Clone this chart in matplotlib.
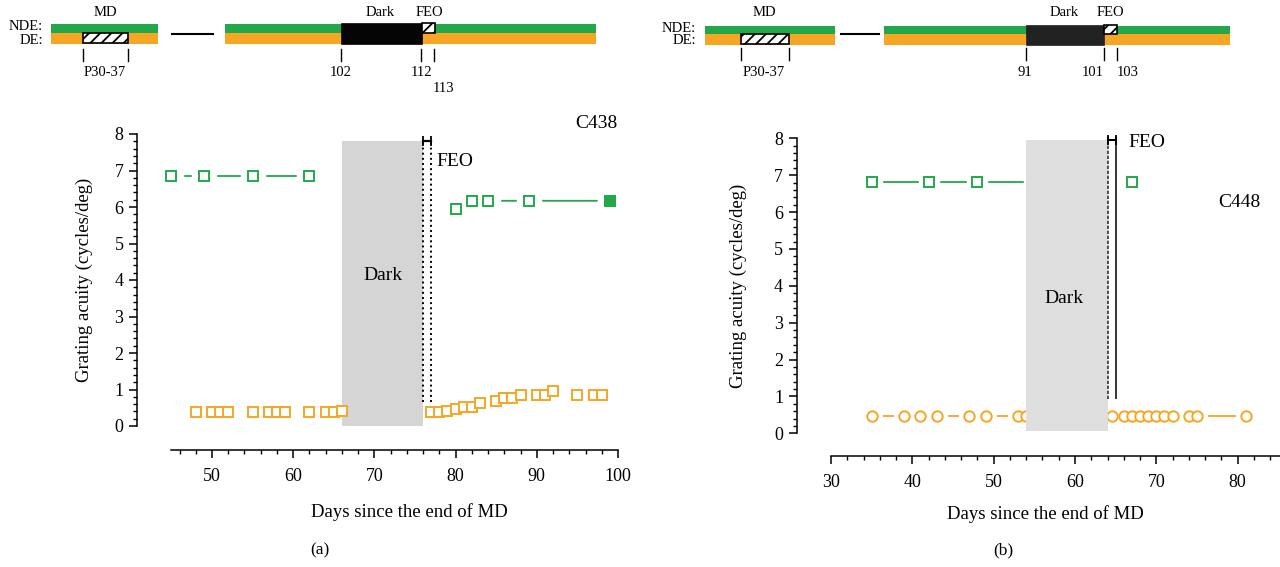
import matplotlib
matplotlib.use("Agg")
import matplotlib.pyplot as plt
from matplotlib.patches import Rectangle
from matplotlib.ticker import MultipleLocator

plt.rcParams['font.family'] = ['Liberation Serif', 'DejaVu Serif']
plt.rcParams['hatch.linewidth'] = 1.3

GREEN = "#22a84b"
ORANGE = "#f6a623"

# (a) C438
a_nde_pre_days = [45, 49, 55, 62]
a_nde_pre = [6.85, 6.85, 6.85, 6.85]
a_nde_post_days = [80, 82, 84, 89]
a_nde_post = [5.94, 6.17, 6.17, 6.17]
a_nde_last_day = [99]
a_nde_last = [6.17]
a_de_pre_days = [48, 50, 51, 52, 55, 57, 58, 59, 62, 64, 65, 66]
a_de_pre = [0.38, 0.38, 0.38, 0.38, 0.38, 0.38, 0.38, 0.38, 0.38, 0.38, 0.38, 0.41]
a_de_post_days = [77, 78, 79, 80, 81, 82, 83, 85, 86, 87, 88, 90, 91, 92, 95, 97, 98]
a_de_post = [0.37, 0.37, 0.41, 0.47, 0.52, 0.52, 0.62, 0.68, 0.76, 0.76, 0.84,
             0.84, 0.84, 0.96, 0.84, 0.84, 0.84]
a_dark = (66, 76)
a_feo = (76, 77)

# (b) C448
b_nde_pre_days = [35, 42, 48, 55]
b_nde_pre = [6.82, 6.82, 6.82, 6.82]
b_nde_post_days = [67]
b_nde_post = [6.82]
b_de_pre_days = [35, 39, 41, 43, 47, 49, 53, 54]
b_de_pre = [0.47, 0.47, 0.47, 0.47, 0.47, 0.47, 0.47, 0.47]
b_de_post_days = [64.5, 66, 67, 68, 69, 70, 71, 72, 74, 75, 81]
b_de_post = [0.47, 0.47, 0.47, 0.47, 0.47, 0.47, 0.47, 0.47, 0.47, 0.47, 0.47]
b_dark = (54, 64)
b_feo = (64, 65)


def series(ax, x, y, color, marker, ms, halo, filled=False):
    # line, white halo (gap round the markers), then the marker itself
    ax.plot(x, y, '-', color=color, lw=1.3, zorder=2)
    ax.plot(x, y, ls='none', marker=marker, ms=halo, mfc='white', mec='white', zorder=3,
            clip_on=False)
    ax.plot(x, y, ls='none', marker=marker, ms=ms, mfc=color if filled else 'white',
            mec=color, mew=1.4, zorder=4, clip_on=False)


def style_axes(ax, xlim, xmajor, bottom_offset):
    ax.set_xlim(*xlim)
    ax.set_ylim(0, 8)
    ax.xaxis.set_major_locator(MultipleLocator(xmajor))
    ax.xaxis.set_minor_locator(MultipleLocator(2))
    ax.yaxis.set_major_locator(MultipleLocator(1))
    ax.yaxis.set_minor_locator(MultipleLocator(0.2))
    for s in ['top', 'right']:
        ax.spines[s].set_visible(False)
    ax.spines['left'].set_position(('outward', 24.5))
    ax.spines['bottom'].set_position(('outward', bottom_offset))
    for s in ['left', 'bottom']:
        ax.spines[s].set_linewidth(1.1)
    ax.tick_params(which='major', length=6, width=1.1, labelsize=13)
    ax.tick_params(axis='x', which='major', pad=7)
    ax.tick_params(axis='y', which='major', pad=4)
    ax.tick_params(which='minor', length=3, width=1.0)
    ax.set_ylabel("Grating acuity (cycles/deg)", fontsize=13.5)
    ax.set_xlabel("Days since the end of MD", fontsize=13.5)


def timeline(ax, t):
    ax.text(t['lab_x'], t['nde_y'], "NDE:", ha='right', va='center', fontsize=10.5)
    ax.text(t['lab_x'], t['de_y'], "DE:", ha='right', va='center', fontsize=10.5)
    for (xa, xb) in [t['bar1'], t['bar2']]:
        ax.add_patch(Rectangle((xa, t['g_top']), xb - xa, t['g_h'], color=GREEN, lw=0))
        ax.add_patch(Rectangle((xa, t['g_top'] + t['g_h']), xb - xa, t['o_h'], color=ORANGE, lw=0))
    md = t['md']
    ax.add_patch(Rectangle((md[0], t['g_top'] + t['g_h']), md[1] - md[0], t['o_h'] - 1,
                           facecolor='white', edgecolor='black', hatch='///', lw=1.2))
    dk = t['dark']
    ax.add_patch(Rectangle((dk[0], t['g_top'] - 1), dk[1] - dk[0], t['g_h'] + t['o_h'] + 1,
                           facecolor=t['dark_c'], edgecolor=t['dark_c'], lw=0.5))
    fe = t['feo']
    ax.add_patch(Rectangle((fe[0], t['g_top'] - 1), fe[1] - fe[0], t['g_h'] + 1,
                           facecolor='white', edgecolor='black', hatch='///', lw=1.2))
    ax.plot(t['dash'], [t['dash_y']] * 2, color='black', lw=1.5)
    for xt in t['ticks']:
        ax.plot([xt, xt], [t['tick_y0'], t['tick_y1']], color='black', lw=1.0)
    for (txt, xx, yy) in t['labels']:
        ax.text(xx, yy, txt, ha='center', va='center', fontsize=10.5)


fig = plt.figure(figsize=(12.8, 5.67), dpi=100)

# --- panel (a)
ax1 = fig.add_axes([171.4 / 1280, 1 - 426 / 567, 446.6 / 1280, 292 / 567])
style_axes(ax1, (45, 100), 10, 17.3)
series(ax1, a_nde_pre_days, a_nde_pre, GREEN, 's', 7, 17)
series(ax1, a_nde_post_days + a_nde_last_day, a_nde_post + a_nde_last, GREEN, 's', 7, 17)
series(ax1, a_nde_last_day, a_nde_last, GREEN, 's', 7, 17, filled=True)
series(ax1, a_de_pre_days, a_de_pre, ORANGE, 's', 6.5, 17)
series(ax1, a_de_post_days, a_de_post, ORANGE, 's', 6.5, 17)
ax1.add_patch(Rectangle((a_dark[0], 0), a_dark[1] - a_dark[0], 7.8,
                        facecolor='#d5d5d5', lw=0, zorder=3.5))
ax1.vlines(a_feo, 0.67, 7.8, colors='black', linestyles=':', lw=1.4, zorder=5)
ax1.plot(a_feo, [7.8, 7.8], color='black', lw=1.6, marker='|', ms=7, mew=1.3,
         clip_on=False, zorder=5)
ax1.text(71.1, 4.13, "Dark", ha='center', va='center', fontsize=14, zorder=6)
ax1.text(77.6, 7.25, "FEO", ha='left', va='center', fontsize=14)
ax1.text(100, 8.28, "C438", ha='right', va='center', fontsize=14)
ax1.yaxis.set_label_coords(-0.175, 0.5)
ax1.xaxis.set_label_coords(0.532, -0.265)

# --- panel (b)
ax2 = fig.add_axes([831 / 1280, 1 - 433.3 / 567, 455.5 / 1280, 295 / 567])
style_axes(ax2, (30, 86), 10, 16.1)
series(ax2, b_nde_pre_days, b_nde_pre, GREEN, 's', 7.5, 14)
series(ax2, b_nde_post_days, b_nde_post, GREEN, 's', 7.5, 14)
series(ax2, b_de_pre_days, b_de_pre, ORANGE, 'o', 7.5, 14)
series(ax2, b_de_post_days, b_de_post, ORANGE, 'o', 7.5, 14)
ax2.add_patch(Rectangle((b_dark[0], 0.07), b_dark[1] - b_dark[0], 7.88,
                        facecolor='#dedede', lw=0, zorder=5))
ax2.vlines(b_feo[0], 0.92, 8.04, colors='#333333', linestyles=(0, (2, 1)), lw=1.2,
           zorder=6, clip_on=False)
ax2.vlines(b_feo[1], 0.92, 8.04, colors='black', lw=1.1, zorder=6, clip_on=False)
ax2.plot(b_feo, [7.95, 7.95], color='black', lw=1.5, marker='|', ms=7, mew=1.3,
         clip_on=False, zorder=6)
ax2.text(58.7, 3.66, "Dark", ha='center', va='center', fontsize=14, zorder=7)
ax2.text(66.6, 7.88, "FEO", ha='left', va='center', fontsize=14)
ax2.text(80.2, 6.25, "C448", ha='center', va='center', fontsize=14)
ax2.yaxis.set_label_coords(-0.184, 0.5)
ax2.xaxis.set_label_coords(0.47, -0.243)

# --- timelines on top (figure pixel space)
axt = fig.add_axes([0, 0, 1, 1], zorder=-1)
axt.set_xlim(0, 1280)
axt.set_ylim(567, 0)
axt.axis('off')

timeline(axt, dict(
    lab_x=43, nde_y=27, de_y=40, g_top=24, g_h=8.5, o_h=11,
    bar1=(51, 158), bar2=(225, 596), md=(83, 128), dark=(341, 422), feo=(422, 435),
    dark_c='#050505', dash=(172, 213), dash_y=34, ticks=[83, 128, 341, 421, 434],
    tick_y0=49, tick_y1=61,
    labels=[("MD", 105, 13), ("Dark", 380, 13), ("FEO", 429, 13), ("P30-37", 105, 72),
            ("102", 341, 72), ("112", 421, 72), ("113", 444, 88)]))

timeline(axt, dict(
    lab_x=696, nde_y=28, de_y=41, g_top=26, g_h=8, o_h=11,
    bar1=(705, 835), bar2=(884, 1230), md=(741, 789), dark=(1026, 1104), feo=(1104, 1117),
    dark_c='#222222', dash=(841, 879), dash_y=34, ticks=[741, 789, 1026, 1104, 1117],
    tick_y0=48, tick_y1=60,
    labels=[("MD", 764, 13), ("Dark", 1064, 13), ("FEO", 1110, 13), ("P30-37", 764, 72),
            ("91", 1025, 73), ("101", 1093, 73), ("103", 1128, 73)]))

fig.text(320 / 1280, 1 - 550 / 567, "(a)", ha='center', va='center', fontsize=12.5)
fig.text(1003 / 1280, 1 - 550 / 567, "(b)", ha='center', va='center', fontsize=12.5)

fig.savefig("out.png", dpi=100)
